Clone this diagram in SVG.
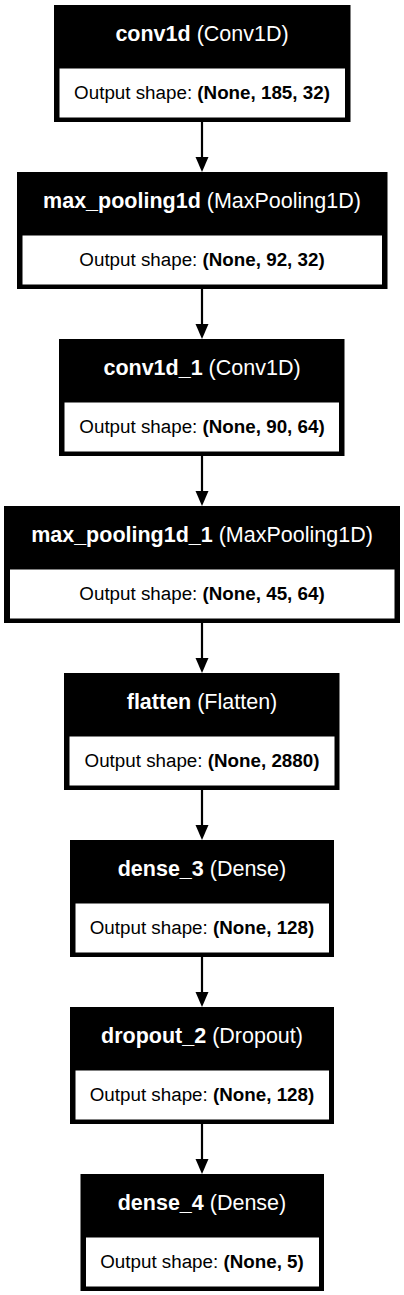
<svg xmlns="http://www.w3.org/2000/svg" width="404" height="1295" viewBox="0 0 404 1295">
<style>
.outer{fill:#000;stroke:#000;stroke-width:1}
.inner{fill:#fff;stroke:#000;stroke-width:1}
.title{font-family:"Liberation Sans",Arial,sans-serif;font-size:21.5px;fill:#fff;text-anchor:middle}
.out{font-family:"Liberation Sans",Arial,sans-serif;font-size:18.8px;fill:#000;text-anchor:middle}
.b{font-weight:bold}
.edge{stroke:#000;stroke-width:2.2;fill:none}
.head{fill:#000}
</style>
<rect width="404" height="1295" fill="#fff"/>
<g id="connectors">
<line class="edge" x1="202" y1="122" x2="202" y2="158"/><polygon class="head" points="195.5,157 208.5,157 202,172"/>
<line class="edge" x1="202" y1="289" x2="202" y2="325"/><polygon class="head" points="195.5,324 208.5,324 202,339"/>
<line class="edge" x1="202" y1="456" x2="202" y2="492"/><polygon class="head" points="195.5,491 208.5,491 202,506"/>
<line class="edge" x1="202" y1="623" x2="202" y2="659"/><polygon class="head" points="195.5,658 208.5,658 202,673"/>
<line class="edge" x1="202" y1="790" x2="202" y2="826"/><polygon class="head" points="195.5,825 208.5,825 202,840"/>
<line class="edge" x1="202" y1="957" x2="202" y2="993"/><polygon class="head" points="195.5,992 208.5,992 202,1007"/>
<line class="edge" x1="202" y1="1124" x2="202" y2="1160"/><polygon class="head" points="195.5,1159 208.5,1159 202,1174"/>
</g>
<g id="conv1d">
<rect class="outer" x="54.5" y="5.5" width="295.5" height="116"/>
<rect class="inner" x="59" y="68" width="286.5" height="50"/>
<text class="title" x="202" y="41"><tspan class="b">conv1d</tspan> (Conv1D)</text>
<text class="out" x="202" y="99">Output shape: <tspan class="b">(None, 185, 32)</tspan></text>
</g>
<g id="max_pooling1d">
<rect class="outer" x="17.5" y="172.5" width="369.5" height="116"/>
<rect class="inner" x="22" y="235" width="360.5" height="50"/>
<text class="title" x="202" y="208"><tspan class="b">max_pooling1d</tspan> (MaxPooling1D)</text>
<text class="out" x="202" y="266">Output shape: <tspan class="b">(None, 92, 32)</tspan></text>
</g>
<g id="conv1d_1">
<rect class="outer" x="59.5" y="339.5" width="284.5" height="116"/>
<rect class="inner" x="64" y="402" width="275.5" height="50"/>
<text class="title" x="202" y="375"><tspan class="b">conv1d_1</tspan> (Conv1D)</text>
<text class="out" x="202" y="433">Output shape: <tspan class="b">(None, 90, 64)</tspan></text>
</g>
<g id="max_pooling1d_1">
<rect class="outer" x="4.5" y="506.5" width="395" height="116"/>
<rect class="inner" x="9.5" y="569" width="385.5" height="50"/>
<text class="title" x="202" y="542"><tspan class="b">max_pooling1d_1</tspan> (MaxPooling1D)</text>
<text class="out" x="202" y="600">Output shape: <tspan class="b">(None, 45, 64)</tspan></text>
</g>
<g id="flatten">
<rect class="outer" x="64.5" y="673.5" width="274.5" height="116"/>
<rect class="inner" x="69" y="736" width="266" height="50"/>
<text class="title" x="202" y="709"><tspan class="b">flatten</tspan> (Flatten)</text>
<text class="out" x="202" y="767">Output shape: <tspan class="b">(None, 2880)</tspan></text>
</g>
<g id="dense_3">
<rect class="outer" x="70.5" y="840.5" width="263" height="116"/>
<rect class="inner" x="75" y="903" width="254.5" height="50"/>
<text class="title" x="202" y="876"><tspan class="b">dense_3</tspan> (Dense)</text>
<text class="out" x="202" y="934">Output shape: <tspan class="b">(None, 128)</tspan></text>
</g>
<g id="dropout_2">
<rect class="outer" x="70.5" y="1007.5" width="263" height="116"/>
<rect class="inner" x="75" y="1070" width="254.5" height="50"/>
<text class="title" x="202" y="1043"><tspan class="b">dropout_2</tspan> (Dropout)</text>
<text class="out" x="202" y="1101">Output shape: <tspan class="b">(None, 128)</tspan></text>
</g>
<g id="dense_4">
<rect class="outer" x="81" y="1174.5" width="242.5" height="116"/>
<rect class="inner" x="85.5" y="1237" width="234" height="50"/>
<text class="title" x="202" y="1210"><tspan class="b">dense_4</tspan> (Dense)</text>
<text class="out" x="202" y="1268">Output shape: <tspan class="b">(None, 5)</tspan></text>
</g>
</svg>
